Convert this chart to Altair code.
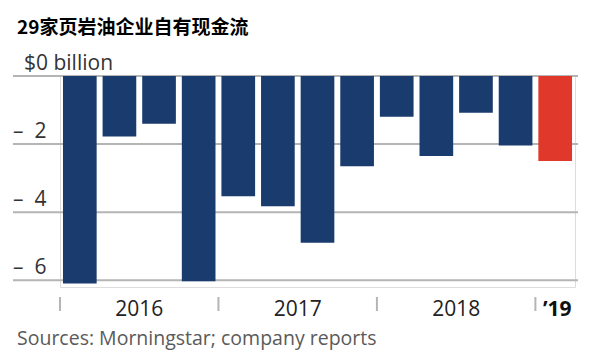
import altair as alt
import pandas as pd

# ---- data ----
quarters = ["2016Q1", "2016Q2", "2016Q3", "2016Q4",
            "2017Q1", "2017Q2", "2017Q3", "2017Q4",
            "2018Q1", "2018Q2", "2018Q3", "2018Q4",
            "2019Q1"]
cash_flow = [-6.1, -1.78, -1.4, -6.03,
             -3.53, -3.83, -4.9, -2.65,
             -1.2, -2.35, -1.08, -2.04,
             -2.5]
series_group = ["past"] * 12 + ["latest"]

year_labels = ["2016", "2017", "2018"]
year_label_anchor = ["2016Q2", "2017Q2", "2018Q2"]
last_year_label = ["’19"]
last_year_anchor = ["2019Q1"]
year_start = ["2016Q1", "2017Q1", "2018Q1", "2019Q1"]

y_ticks = [0, -2, -4, -6]
y_tick_labels = ["$0 billion", "–\u00a0\u00a02", "–\u00a0\u00a04", "–\u00a0\u00a06"]

title_text = ["29家页岩油企业自有现金流"]
source_text = ["Sources: Morningstar; company reports"]

NAVY = "#1a3b6e"
RED = "#e0392b"
GRID = "#b5b5b5"
FONT = "Open Sans"

bars_df = pd.DataFrame({"q": quarters, "v": cash_flow, "g": series_group})
ticks_df = pd.DataFrame({"t": y_ticks, "label": y_tick_labels})
years_df = pd.DataFrame({"q": year_label_anchor, "label": year_labels})
last_df = pd.DataFrame({"q": last_year_anchor, "label": last_year_label})
ystart_df = pd.DataFrame({"q": year_start})
title_df = pd.DataFrame({"label": title_text})
source_df = pd.DataFrame({"label": source_text})

xscale = alt.Scale(domain=quarters, paddingInner=0, paddingOuter=0)
yscale = alt.Scale(domain=[-6.2, 0], nice=False)

grid = alt.Chart(ticks_df).mark_rule(color=GRID, strokeWidth=2).encode(
    y=alt.Y("t:Q", scale=yscale, axis=None),
    x=alt.value(-47),
    x2=alt.value(518),
)

bars = alt.Chart(bars_df).mark_bar(width=alt.RelativeBandSize(band=0.85)).encode(
    x=alt.X("q:N", scale=xscale, axis=None, sort=quarters),
    y=alt.Y("v:Q", scale=yscale, axis=None),
    color=alt.Color("g:N", scale=alt.Scale(domain=["past", "latest"], range=[NAVY, RED]), legend=None),
)

ylab_zero = alt.Chart(ticks_df).transform_filter("datum.t == 0").mark_text(
    align="left", baseline="alphabetic", dy=-6, font=FONT, fontSize=21, color="#333333"
).encode(y=alt.Y("t:Q", scale=yscale, axis=None), x=alt.value(-36), text="label:N")

ylab_other = alt.Chart(ticks_df).transform_filter("datum.t != 0").mark_text(
    align="left", baseline="alphabetic", dy=-6, font=FONT, fontSize=21, color="#333333"
).encode(y=alt.Y("t:Q", scale=yscale, axis=None), x=alt.value(-47), text="label:N")

year_ticks = alt.Chart(ystart_df).mark_rule(color=GRID, strokeWidth=2).encode(
    x=alt.X("q:N", scale=xscale, axis=None, bandPosition=0),
    y=alt.value(221),
    y2=alt.value(235),
)

year_text = alt.Chart(years_df).mark_text(
    align="center", baseline="alphabetic", font=FONT, fontSize=21, color="#222222"
).encode(x=alt.X("q:N", scale=xscale, axis=None, bandPosition=1), y=alt.value(240), text="label:N")

last_text = alt.Chart(last_df).mark_text(
    align="center", baseline="alphabetic", font=FONT, fontSize=21, fontWeight="bold", color="#111111"
).encode(x=alt.X("q:N", scale=xscale, axis=None, bandPosition=0.55), y=alt.value(240), text="label:N")

title = alt.Chart(title_df).mark_text(
    align="left", baseline="middle", font="Noto Sans CJK SC", fontSize=19, fontWeight="bold", color="#000000"
).encode(x=alt.value(-43), y=alt.value(-48), text="label:N")

source = alt.Chart(source_df).mark_text(
    align="left", baseline="alphabetic", font=FONT, fontSize=19.5, color="#5a5a5a"
).encode(x=alt.value(-43), y=alt.value(269), text="label:N")

chart = alt.layer(
    grid, bars, ylab_zero, ylab_other, year_ticks, year_text, last_text, title, source
).properties(
    width=515, height=211,
    padding={"left": 52, "top": 68, "right": 17, "bottom": 67},
    autosize=alt.AutoSizeParams(type="none"),
).configure_view(stroke=None).configure(background="white")

chart.save("out.html", embed_options={"renderer": "svg", "actions": False})
